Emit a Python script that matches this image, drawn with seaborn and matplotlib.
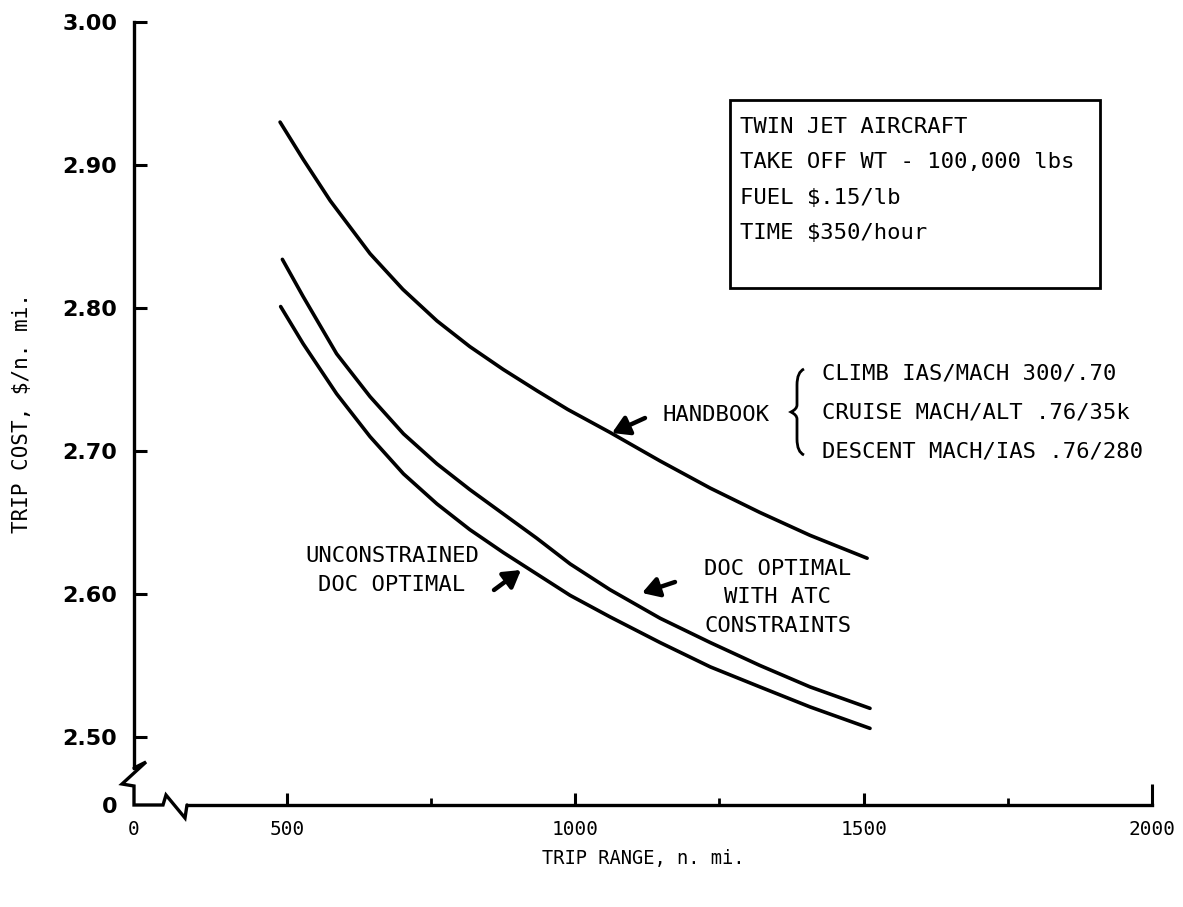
import numpy as np
import pandas as pd
import matplotlib
matplotlib.use("Agg")
import matplotlib.pyplot as plt
from matplotlib.path import Path
from matplotlib.patches import PathPatch, Rectangle
from matplotlib.lines import Line2D
import seaborn as sns

# ---------------- data ----------------
range_handbook = [488, 528, 575, 644, 701, 760, 817, 875, 934, 987, 1060, 1147, 1234, 1320, 1407, 1506]
cost_handbook = [2.930, 2.904, 2.875, 2.838, 2.813, 2.791, 2.773, 2.757, 2.742, 2.729, 2.713, 2.693, 2.674, 2.657, 2.641, 2.625]

range_atc = [492, 528, 586, 644, 702, 760, 817, 875, 933, 991, 1060, 1147, 1234, 1320, 1407, 1511]
cost_atc = [2.834, 2.808, 2.768, 2.738, 2.712, 2.691, 2.673, 2.656, 2.639, 2.621, 2.603, 2.583, 2.566, 2.550, 2.535, 2.520]

range_unc = [489, 528, 586, 644, 702, 760, 817, 875, 933, 991, 1060, 1147, 1234, 1320, 1407, 1511]
cost_unc = [2.801, 2.775, 2.740, 2.710, 2.684, 2.663, 2.645, 2.629, 2.614, 2.599, 2.584, 2.566, 2.549, 2.535, 2.521, 2.506]

y_ticks = [2.50, 2.60, 2.70, 2.80, 2.90, 3.00]
y_ticklabels = ["2.50", "2.60", "2.70", "2.80", "2.90", "3.00"]
x_ticks = [500, 1000, 1500, 2000]
x_ticklabels = ["500", "1000", "1500", "2000"]
x_minor = [750, 1250, 1750]

box_lines = ["TWIN JET AIRCRAFT", "TAKE OFF WT - 100,000 lbs", "FUEL $.15/lb", "TIME $350/hour"]
handbook_lines = ["CLIMB IAS/MACH 300/.70", "CRUISE MACH/ALT .76/35k", "DESCENT MACH/IAS .76/280"]

# ---------------- style ----------------
sns.set_style("white")
plt.rcParams["font.family"] = ["DejaVu Sans"]
plt.rcParams["text.color"] = "black"
plt.rcParams["axes.labelcolor"] = "black"
plt.rcParams["xtick.color"] = "black"
plt.rcParams["ytick.color"] = "black"
MONO = ["DejaVu Sans Mono", "DejaVu Sans"]

W, H = 1183, 907
fig = plt.figure(figsize=(W / 100, H / 100), dpi=100)
L, R, T, B = 134, 1152, 22, 805
ax = fig.add_axes([L / W, 1 - B / H, (R - L) / W, (B - T) / H])

xmin, xmax = 234.7, 2000
ymin, ymax = 2.4524, 3.00

df = pd.concat([
    pd.DataFrame({"range": range_handbook, "cost": cost_handbook, "series": "HANDBOOK"}),
    pd.DataFrame({"range": range_atc, "cost": cost_atc, "series": "ATC"}),
    pd.DataFrame({"range": range_unc, "cost": cost_unc, "series": "UNC"}),
])
for name, g in df.groupby("series", sort=False):
    sns.lineplot(data=g, x="range", y="cost", color="black", lw=2.6, ax=ax,
                 estimator=None, sort=True, legend=False)
for ln in ax.get_lines():
    ln.set_solid_capstyle("round")
    ln.set_solid_joinstyle("round")

ax.set_xlim(xmin, xmax)
ax.set_ylim(ymin, ymax)

# ticks
ax.set_yticks([ymin] + y_ticks, ["0"] + y_ticklabels)
ax.set_xticks([xmin] + x_ticks, ["0"] + x_ticklabels)
ax.set_xticks(x_minor, minor=True)
ax.tick_params(axis="y", which="major", direction="in", length=9, width=2.2, pad=12,
               labelsize=16, left=True)
ax.tick_params(axis="x", which="major", direction="in", length=9, width=2.2, pad=11,
               labelsize=14, bottom=True)
ax.tick_params(axis="x", which="minor", direction="in", length=5, width=2.0, bottom=True)
for lab in ax.get_yticklabels():
    lab.set_fontweight("bold")
for lab in ax.get_xticklabels():
    lab.set_family(MONO)
ax.yaxis.get_major_ticks()[0].tick1line.set_markersize(0)
ax.xaxis.get_major_ticks()[0].tick1line.set_markersize(0)
ax.xaxis.get_major_ticks()[-1].tick1line.set_markersize(15)

# spines
for s in ["top", "right"]:
    ax.spines[s].set_visible(False)
for s in ["left", "bottom"]:
    ax.spines[s].set_linewidth(2.4)
    ax.spines[s].set_color("black")


def px2ax(px, py):
    return (px - L) / (R - L), (B - py) / (B - T)


def px2data(px, py):
    return (xmin + (px - L) / (R - L) * (xmax - xmin),
            ymin + (B - py) / (B - T) * (ymax - ymin))


ax.spines["left"].set_bounds(px2data(L, 768)[1], ymax)
ax.spines["bottom"].set_bounds(px2data(187, B)[0], xmax)

# axis break zig-zags
zz = [(L, 768), (146, 762), (122, 784), (L, 786), (L, B), (163, B), (166, 795), (185, 818), (187, B)]
zx, zy = zip(*[px2ax(*p) for p in zz])
ax.add_line(Line2D(zx, zy, transform=ax.transAxes, clip_on=False, color="black",
                   lw=2.4, solid_joinstyle="miter"))

# labels
ax.set_xlabel("TRIP RANGE, n. mi.", family=MONO, fontsize=13.5, labelpad=7)
ax.set_ylabel("TRIP COST, $/n. mi.", family=MONO, fontsize=15, labelpad=22)

# info box
x0, y0 = px2data(730, 288)
x1, y1 = px2data(1100, 100)
ax.add_patch(Rectangle((x0, y0), x1 - x0, y1 - y0, fill=False, lw=2.0, ec="black"))
for line, py in zip(box_lines, [127, 162, 198, 233]):
    tx, ty = px2data(740, py)
    ax.text(tx, ty, line, family=MONO, fontsize=16, ha="left", va="center")

# handbook annotation
tx, ty = px2data(716, 415)
ax.text(tx, ty, "HANDBOOK", family=MONO, fontsize=16, ha="center", va="center")
for line, py in zip(handbook_lines, [374, 413, 452]):
    tx, ty = px2data(822, py)
    ax.text(tx, ty, line, family=MONO, fontsize=16, ha="left", va="center")

# brace
brace_px = [(804, 369), (797, 372), (797, 385), (797, 405), (797, 409), (791, 412),
            (797, 415), (797, 419), (797, 439), (797, 452), (804, 455)]
codes = [Path.MOVETO, Path.CURVE3, Path.CURVE3, Path.LINETO, Path.CURVE3, Path.CURVE3,
         Path.CURVE3, Path.CURVE3, Path.LINETO, Path.CURVE3, Path.CURVE3]
bpath = Path([px2ax(*p) for p in brace_px], codes)
ax.add_patch(PathPatch(bpath, transform=ax.transAxes, fill=False, lw=2.0, ec="black",
                       clip_on=False))

arrow_kw = dict(arrowstyle="-|>,head_length=0.5,head_width=0.3", lw=3.2, color="black",
                shrinkA=0, shrinkB=0, mutation_scale=20)
ax.annotate("", xy=px2data(612, 433), xytext=px2data(645, 418), arrowprops=arrow_kw)

# unconstrained
tx, ty = px2data(392, 556)
ax.text(tx, ty, "UNCONSTRAINED", family=MONO, fontsize=16, ha="center", va="center")
tx, ty = px2data(392, 585)
ax.text(tx, ty, "DOC OPTIMAL", family=MONO, fontsize=16, ha="center", va="center")
ax.annotate("", xy=px2data(521, 570), xytext=px2data(494, 590), arrowprops=arrow_kw)

# ATC constrained
for line, py in zip(["DOC OPTIMAL", "WITH ATC", "CONSTRAINTS"], [569, 597, 626]):
    tx, ty = px2data(778, py)
    ax.text(tx, ty, line, family=MONO, fontsize=16, ha="center", va="center")
ax.annotate("", xy=px2data(642, 593), xytext=px2data(675, 582), arrowprops=arrow_kw)

fig.savefig("out.png", dpi=100)
